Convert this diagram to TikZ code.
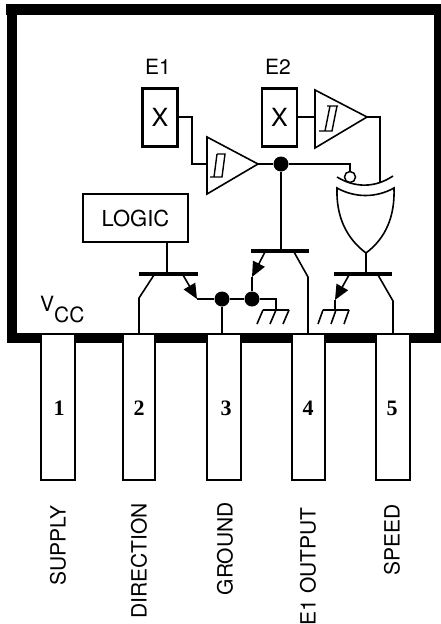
\documentclass[tikz,border=0pt]{standalone}
\usepackage{fontspec}
\setmainfont{TeX Gyre Heros}
\newfontfamily\numfont{Liberation Serif}
\usetikzlibrary{arrows.meta}
\tikzset{
 wire/.style={draw=black,line width=1.6pt,line join=miter},
 emit/.style={wire,-{Triangle[length=15pt,width=13pt]}},
 bar/.style={draw=black,line width=3.4pt},
 dot/.style={circle,fill=black,inner sep=0pt,minimum size=15pt},
 bubble/.style={circle,draw=black,fill=white,line width=1.5pt,inner sep=0pt,minimum size=11pt},
 xbox/.style={draw=black,line width=2.4pt,fill=white,minimum width=35pt,minimum height=58pt,inner sep=0pt,font=\fontsize{25}{25}\selectfont},
 logicbox/.style={draw=black,line width=2.2pt,fill=white,minimum width=105pt,minimum height=48pt,inner sep=0pt,font=\fontsize{22}{22}\selectfont},
 pin/.style={draw=black,line width=1.4pt,fill=white,inner sep=0pt,minimum height=146pt},
 pinnum/.style={inner sep=0pt,font=\numfont\bfseries\fontsize{22}{22}\selectfont},
 pinlabel/.style={inner sep=0pt,rotate=90,anchor=east,font=\fontsize{21}{21}\selectfont},
 txt/.style={inner sep=0pt,font=\fontsize{21}{21}\selectfont},
}
\begin{document}
\begin{tikzpicture}[x=1pt,y=-1pt]
\useasboundingbox (0,0) rectangle (441,624);
% package outline
\fill[black] (5.5,4) rectangle (444,15);
\fill[black] (7,4) rectangle (17,343);
\fill[black] (434,4) rectangle (444,343);
\fill[black] (7,333) rectangle (444,343);
% pins
\node[pin,minimum width=34pt] (p1) at (58,407) {};
\node[pin,minimum width=32pt] (p2) at (139,407) {};
\node[pin,minimum width=34pt] (p3) at (224,407) {};
\node[pin,minimum width=33pt] (p4) at (308.5,407) {};
\node[pin,minimum width=34pt] (p5) at (393,407) {};
\node[pinnum] at (59,408) {1};
\node[pinnum] at (139,408) {2};
\node[pinnum] at (226,408) {3};
\node[pinnum] at (308,408) {4};
\node[pinnum] at (392,408) {5};
\node[pinlabel] at (58,505) {SUPPLY};
\node[pinlabel] at (139,503) {DIRECTION};
\node[pinlabel] at (225,502) {GROUND};
\node[pinlabel] at (308,507) {E1 OUTPUT};
\node[pinlabel] at (392,504) {SPEED};
% labels
\node[txt] at (158,67) {E1};
\node[txt] at (278,67) {E2};
\node[txt,anchor=base west] (vcc) at (40,311) {V\raisebox{-11pt}{CC}};
% boxes
\node[xbox] (x1) at (160,117.5) {X};
\node[xbox] (x2) at (279.5,117.5) {X};
\node[logicbox] (logic) at (135.5,218) {LOGIC\hspace{14pt}};
% buffers
\coordinate (b1a) at (258,164);
\coordinate (b1i) at (207,164);
\draw[wire] (207,137) -- (207,194) -- (b1a) -- cycle;
\draw[wire,line width=1.4pt] (217,154) -- (225,154) -- (222,177) -- (210,177) (217,154) -- (214,177);
\coordinate (b2a) at (367,117);
\coordinate (b2i) at (315,117);
\draw[wire] (315,90) -- (315,148) -- (b2a) -- cycle;
\draw[wire,line width=1.4pt] (327,106) -- (338,106) (337,106) -- (332,131) -- (319,131) (330,106) -- (325,131);
% xor gate
\draw[wire] (337,177) .. controls (355,188) and (375,188) .. (393,176);
\draw[wire] (337,188) .. controls (355,198) and (376,198) .. (394,188)
  .. controls (395,216) and (386,238) .. (366,253)
  .. controls (346,238) and (336,216) .. (337,188) -- cycle;
\coordinate (xorout) at (366,253);
\coordinate (xorb) at (380,182);
\node[bubble] (bub) at (350,177) {};
% transistors
\coordinate (q1b) at (167,274);
\coordinate (q2b) at (281,251);
\coordinate (q3b) at (366,274);
\draw[bar] (139,274) -- (198,274);
\draw[bar] (251,251) -- (309,251);
\draw[bar] (334,274) -- (392,274);
% dots
\node[dot] (d0) at (281,164) {};
\node[dot] (d1) at (222,299) {};
\node[dot] (d2) at (252,299) {};
% connectors
\draw[wire] (x1.east |- 0,117) -- (192,117) -- (192,164) -- (b1i);
\draw[wire] (x2.east |- 0,117) -- (b2i);
\draw[wire] (b2a) -- (380,117) -- (xorb);
\draw[wire] (b1a) -- (d0);
\draw[wire] (d0) -- (350,164) -- (bub.north);
\draw[wire] (d0) -- (q2b);
\draw[wire] (logic.south -| q1b) -- (q1b);
\draw[wire] (xorout) -- (q3b);
% T1
\draw[wire] (154,275) -- (139,298) -- (139,333);
\draw[emit] (183,275) -- (197,299);
\draw[wire] (197,299) -- (d1);
\draw[wire] (d1) -- (222,333);
\draw[wire] (d1) -- (d2);
% T2
\draw[emit] (265,252) -- (252,277);
\draw[wire] (252,277) -- (d2);
\draw[wire] (294,252) -- (308,277) -- (308,333);
\draw[wire] (d2) -- (276,299) -- (276,310);
\draw[wire] (263,310) -- (289,310) (263,310) -- (257,324) (276,310) -- (270,324) (289,310) -- (283,324);
% T3
\draw[emit] (349,275) -- (335,300);
\draw[wire] (335,300) -- (335,310);
\draw[wire] (378,275) -- (393,301) -- (393,333);
\draw[wire] (323,310) -- (349,310) (323,310) -- (318,324) (336,310) -- (331,324) (349,310) -- (344,324);
\end{tikzpicture}
\end{document}
